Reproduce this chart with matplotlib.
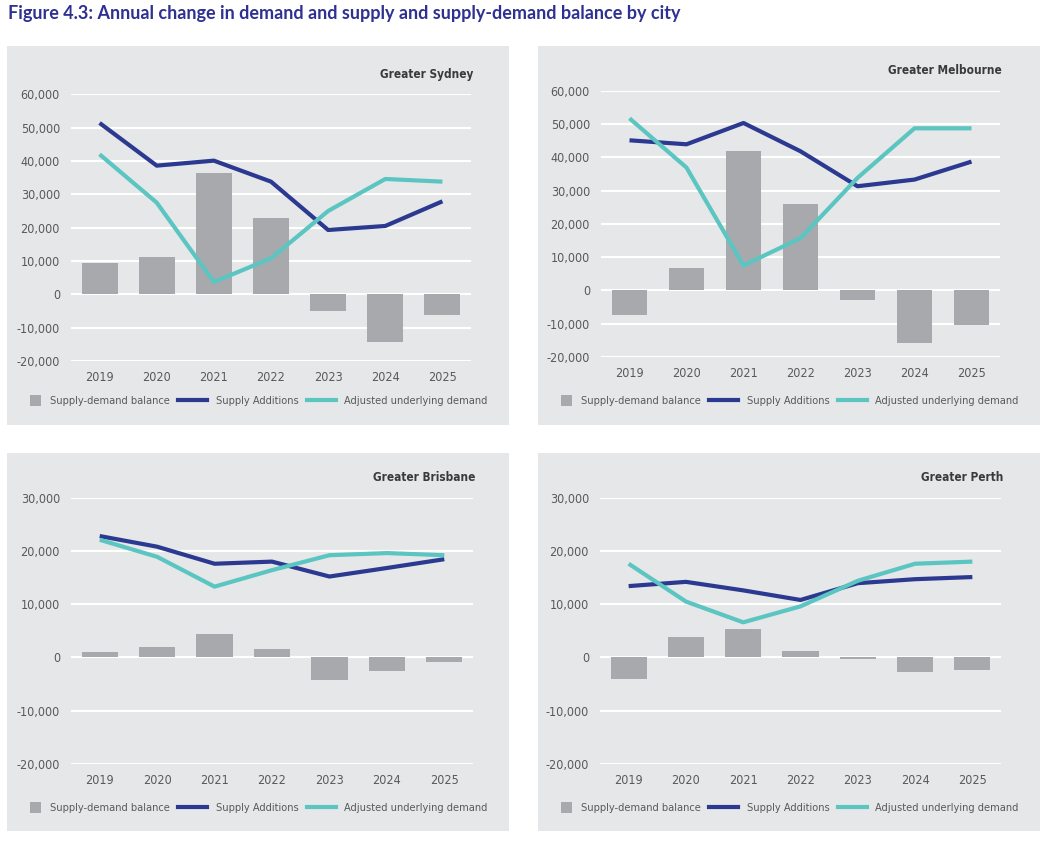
import matplotlib
matplotlib.use('Agg')
import matplotlib.pyplot as plt
from matplotlib.patches import Rectangle
from matplotlib.lines import Line2D
from matplotlib.legend_handler import HandlerBase
from matplotlib.ticker import FuncFormatter

plt.rcParams['font.family'] = ['DejaVu Sans']
plt.rcParams['font.stretch'] = 'condensed'

years = ['2019', '2020', '2021', '2022', '2023', '2024', '2025']

# values
syd_balance = [9500, 11200, 36400, 22900, -4900, -14200, -6100]
syd_supply = [51400, 38600, 40100, 33800, 19300, 20500, 27900]
syd_demand = [42000, 27500, 3700, 10800, 25000, 34600, 33800]

mel_balance = [-7300, 6700, 41800, 25900, -2800, -15700, -10300]
mel_supply = [45100, 43900, 50300, 41800, 31300, 33300, 38700]
mel_demand = [51700, 36900, 7500, 15700, 33800, 48700, 48700]

bne_balance = [1100, 2000, 4450, 1630, -4300, -2600, -900]
bne_supply = [22800, 20800, 17600, 18000, 15200, 16800, 18450]
bne_demand = [22100, 18900, 13300, 16400, 19200, 19600, 19200]

per_balance = [-4100, 3900, 5400, 1250, -300, -2800, -2400]
per_supply = [13400, 14200, 12600, 10800, 13950, 14700, 15100]
per_demand = [17600, 10500, 6600, 9600, 14400, 17600, 18000]

BG = '#e6e7e8'
BAR = '#a7a9ac'
NAVY = '#2b3990'
TEAL = '#5bc5c2'
TXT = '#58595b'

W, H = 1046, 843
fig = plt.figure(figsize=(W / 100, H / 100), dpi=100)

def fx(px): return px / W
def fy(py): return 1 - py / H


class SquareHandler(HandlerBase):
    # small grey square sitting at the right end of the handle box
    def create_artists(self, legend, orig, xdescent, ydescent, width, height, fontsize, trans):
        s = 0.95 * fontsize
        r = Rectangle((-xdescent + width - s, -ydescent + (height - s) / 2), s, s,
                      facecolor=BAR, edgecolor='none', transform=trans)
        return [r]


fig.text(fx(8), fy(14), 'Figure 4.3: Annual change in demand and supply and supply-demand balance by city',
         family=['Lato', 'DejaVu Sans'], fontstretch='normal', fontweight='bold', fontsize=13,
         color='#2e3192', va='center', ha='left')

panels = [
    ('Greater Sydney', syd_balance, syd_supply, syd_demand, (7, 46, 509, 425), (71, 94.3, 471, 361), (-20000, 60000), 10000),
    ('Greater Melbourne', mel_balance, mel_supply, mel_demand, (538, 46, 1040, 425), (601, 90.7, 1000, 357), (-20000, 60000), 10000),
    ('Greater Brisbane', bne_balance, bne_supply, bne_demand, (7, 453, 509, 831), (71, 497.7, 473, 764), (-20000, 30000), 10000),
    ('Greater Perth', per_balance, per_supply, per_demand, (538, 453, 1040, 831), (600, 497.7, 1001, 764), (-20000, 30000), 10000),
]

for name, bal, sup, dem, pbox, abox, ylim, step in panels:
    px0, py0, px1, py1 = pbox
    fig.patches.append(Rectangle((fx(px0), fy(py1)), fx(px1 - px0), (py1 - py0) / H,
                                 transform=fig.transFigure, facecolor=BG, edgecolor='none', zorder=-5))
    ax0, aytop, ax1, aybot = abox
    ax = fig.add_axes([fx(ax0), fy(aybot), fx(ax1 - ax0), (aybot - aytop) / H])
    ax.set_facecolor('none')
    x = list(range(len(years)))
    bars = ax.bar(x, bal, width=0.63, color=BAR, zorder=2)
    ax.plot(x, sup, color=NAVY, lw=3, zorder=3, solid_capstyle='butt')
    ax.plot(x, dem, color=TEAL, lw=3, zorder=4, solid_capstyle='butt')
    ax.set_xlim(-0.5, len(years) - 0.5)
    ax.set_ylim(*ylim)
    ax.set_yticks(range(ylim[0], ylim[1] + 1, step))
    ax.yaxis.set_major_formatter(FuncFormatter(lambda v, p: f'{int(v):,}'))
    ax.set_xticks(x)
    ax.set_xticklabels(years)
    ax.grid(axis='y', color='white', lw=1.5, zorder=1)
    ax.set_axisbelow(True)
    for s in ax.spines.values():
        s.set_visible(False)
    ax.tick_params(length=0, labelsize=9, colors=TXT, pad=7)
    ax.tick_params(axis='y', pad=8)
    fig.text(fx(ax1 + 2), fy(aytop - 20), name, ha='right', va='center',
             fontsize=8.5, fontweight='bold', color='#3a3a3c')
    handles = [bars,
               Line2D([], [], color=NAVY, lw=3),
               Line2D([], [], color=TEAL, lw=3)]
    labels = ['Supply-demand balance', 'Supply Additions', 'Adjusted underlying demand']
    fig.legend(handles, labels, ncol=3, frameon=False, loc='center',
               bbox_to_anchor=(fx((px0 + px1) / 2 - 8), fy(py0 + 355)),
               handler_map={type(bars): SquareHandler()},
               fontsize=7.9, labelcolor=TXT, handlelength=2.6, handleheight=0.9,
               handletextpad=0.8, columnspacing=0.8, borderpad=0)

fig.savefig('out.png', dpi=100)
